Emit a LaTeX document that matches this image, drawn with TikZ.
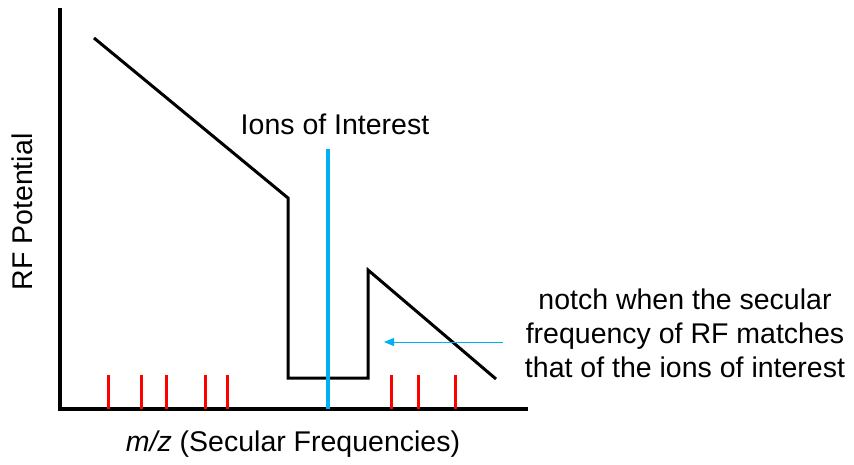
\documentclass[tikz,border=0pt]{standalone}
\usepackage{fontspec}
\setmainfont{Liberation Sans}
\usetikzlibrary{arrows.meta}
\definecolor{ionblue}{RGB}{0,176,240}
\definecolor{tickred}{RGB}{255,0,0}
\begin{document}
\begin{tikzpicture}[x=1pt,y=-1pt,
  axis/.style={line width=4pt},
  curve/.style={line width=3pt,line join=miter},
  ionline/.style={ionblue,line width=4pt},
  ticks/.style={tickred,line width=3pt},
  pointer/.style={ionblue,line width=0.9pt,-{Triangle[length=10pt,width=8pt]}},
  lbl/.style={font=\fontsize{28.5}{34}\selectfont,inner sep=0pt}]
\useasboundingbox (0,0) rectangle (854,465);
% axes
\coordinate (ytop) at (60,8);
\coordinate (origin) at (60,409);
\coordinate (xend) at (528,409);
\draw[axis] (ytop) -- (60,411);
\draw[axis] (58,409) -- (xend);
% RF potential curve
\coordinate (c1) at (94,38);
\coordinate (c2) at (288,198);
\coordinate (c3) at (288,378);
\coordinate (c4) at (368,378);
\coordinate (c5) at (368,270);
\coordinate (c6) at (496,379);
\draw[curve] (c1) -- (c2) -- (c3) -- (c4) -- (c5) -- (c6);
% ions of interest line
\coordinate (iontop) at (328,149);
\coordinate (ionbot) at (328,409);
\draw[ionline] (iontop) -- (ionbot);
% red ticks
\foreach \x in {108,141,166,205,227,391,418,455}{
  \draw[ticks] (\x,375) -- (\x,409);
}
% labels
\node[lbl,anchor=base] (ions) at (335,135) {Ions of Interest};
\node[lbl,rotate=90] (ylab) at (22,212) {RF Potential};
\node[lbl,anchor=base] (xlab) at (293,451) {\textit{m/z} (Secular Frequencies)};
\node[lbl,align=center,anchor=base] (notch) at (685,377) {notch when the secular\\frequency of RF matches\\that of the ions of interest};
\coordinate (arrowstart) at (503,342);
\coordinate (arrowend) at (384,342);
\draw[pointer] (arrowstart) -- (arrowend);
\end{tikzpicture}
\end{document}
